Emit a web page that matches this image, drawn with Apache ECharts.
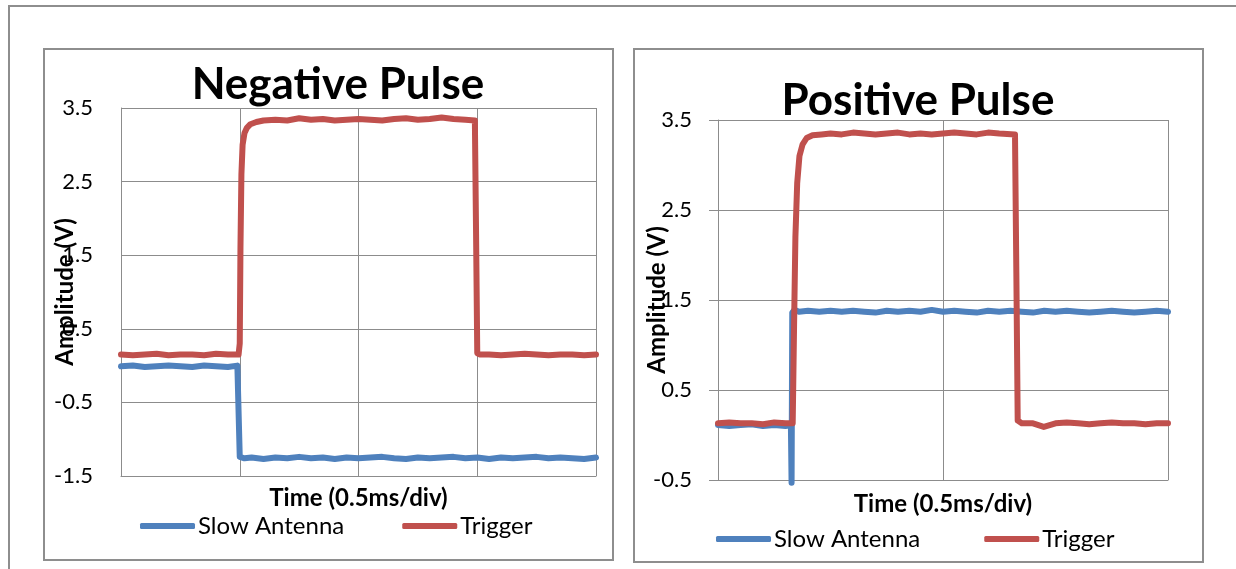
<!DOCTYPE html>
<html>
<head>
<meta charset="utf-8">
<title>Negative / Positive Pulse</title>
<script src="https://cdn.jsdelivr.net/npm/echarts@6/dist/echarts.min.js"></script>
<style>
  body { margin: 0; background: #fff; overflow: hidden; }
  .frame { position: absolute; box-sizing: border-box; border: 2px solid #8e8e8e; }
  .chart { position: absolute; }
</style>
</head>
<body>
<div class="frame" style="left:8px; top:5px; width:1240px; height:600px;"></div>
<div class="frame" style="left:43px; top:48px; width:571px; height:513px;"></div>
<div class="frame" style="left:633px; top:48px; width:571px; height:515px;"></div>
<div id="chart1" class="chart" style="left:43px; top:48px; width:570px; height:512px;"></div>
<div id="chart2" class="chart" style="left:633px; top:48px; width:570px; height:514px;"></div>

<script>
// time in ms (0.5 ms per division), amplitude in V
const legendNames = ['Slow Antenna', 'Trigger']

// Negative Pulse
const negSlow = [
  [0, -0.01], [0.05, 0.0], [0.1, -0.02], [0.15, -0.01], [0.2, 0.0], [0.25, -0.01],
  [0.3, -0.02], [0.35, 0.0], [0.4, -0.01], [0.45, -0.02], [0.49, 0.0], [0.496, -0.01],
  [0.5, -1.24], [0.52, -1.26], [0.55, -1.25], [0.6, -1.27], [0.65, -1.25], [0.7, -1.26],
  [0.75, -1.24], [0.8, -1.26], [0.85, -1.25], [0.9, -1.27], [0.95, -1.25], [1.0, -1.26],
  [1.05, -1.25], [1.1, -1.24], [1.15, -1.26], [1.2, -1.27], [1.25, -1.25], [1.3, -1.26],
  [1.35, -1.25], [1.4, -1.24], [1.45, -1.26], [1.5, -1.25], [1.55, -1.27], [1.6, -1.25],
  [1.65, -1.26], [1.7, -1.25], [1.75, -1.24], [1.8, -1.26], [1.85, -1.25], [1.9, -1.26],
  [1.95, -1.27], [2.0, -1.25]
]
const negTrig = [
  [0, 0.15], [0.05, 0.14], [0.1, 0.15], [0.15, 0.16], [0.2, 0.14], [0.25, 0.15],
  [0.3, 0.15], [0.35, 0.14], [0.4, 0.16], [0.45, 0.15], [0.495, 0.15], [0.5, 0.3],
  [0.503, 1.6], [0.507, 2.6], [0.512, 3.0], [0.52, 3.16], [0.53, 3.23], [0.545, 3.28],
  [0.57, 3.31], [0.6, 3.33], [0.65, 3.34], [0.7, 3.33], [0.75, 3.36], [0.8, 3.34],
  [0.85, 3.35], [0.9, 3.33], [0.95, 3.34], [1.0, 3.35], [1.05, 3.34], [1.1, 3.33],
  [1.15, 3.35], [1.2, 3.36], [1.25, 3.34], [1.3, 3.35], [1.35, 3.37], [1.4, 3.35],
  [1.45, 3.34], [1.49, 3.33], [1.495, 1.8], [1.5, 0.17], [1.51, 0.15], [1.55, 0.15],
  [1.6, 0.14], [1.65, 0.15], [1.7, 0.16], [1.75, 0.15], [1.8, 0.14], [1.85, 0.15],
  [1.9, 0.15], [1.95, 0.14], [2.0, 0.15]
]

// Positive Pulse
const posSlow = [
  [0, 0.11], [0.025, 0.1], [0.05, 0.11], [0.075, 0.12], [0.1, 0.1], [0.125, 0.11],
  [0.15, 0.1], [0.162, 0.11], [0.1635, -0.53], [0.165, 1.36], [0.17, 1.39], [0.18, 1.37],
  [0.2, 1.38], [0.225, 1.37], [0.25, 1.38], [0.275, 1.37], [0.3, 1.38], [0.325, 1.37],
  [0.35, 1.36], [0.375, 1.38], [0.4, 1.37], [0.425, 1.38], [0.45, 1.37], [0.475, 1.39],
  [0.5, 1.37], [0.525, 1.38], [0.55, 1.37], [0.575, 1.36], [0.6, 1.38], [0.625, 1.37],
  [0.65, 1.38], [0.675, 1.37], [0.7, 1.36], [0.725, 1.38], [0.75, 1.37], [0.775, 1.38],
  [0.8, 1.37], [0.825, 1.36], [0.85, 1.37], [0.875, 1.38], [0.9, 1.37], [0.925, 1.36],
  [0.95, 1.37], [0.975, 1.38], [1.0, 1.37]
]
const posTrig = [
  [0, 0.13], [0.025, 0.14], [0.05, 0.13], [0.075, 0.13], [0.1, 0.12], [0.125, 0.14],
  [0.15, 0.13], [0.166, 0.13], [0.169, 1.2], [0.172, 2.2], [0.176, 2.8], [0.181, 3.1],
  [0.188, 3.23], [0.197, 3.3], [0.21, 3.33], [0.23, 3.34], [0.25, 3.35], [0.275, 3.34],
  [0.3, 3.36], [0.325, 3.35], [0.35, 3.34], [0.375, 3.35], [0.4, 3.36], [0.425, 3.34],
  [0.45, 3.35], [0.475, 3.34], [0.5, 3.35], [0.525, 3.36], [0.55, 3.35], [0.575, 3.34],
  [0.6, 3.36], [0.625, 3.35], [0.66, 3.34], [0.663, 1.8], [0.666, 0.16], [0.675, 0.13],
  [0.7, 0.13], [0.724, 0.09], [0.75, 0.13], [0.775, 0.14], [0.8, 0.13], [0.825, 0.12],
  [0.85, 0.13], [0.875, 0.14], [0.9, 0.13], [0.925, 0.13], [0.95, 0.12], [0.975, 0.13],
  [1.0, 0.13]
]

const FONT = 'Lato'
const GRID_COLOR = '#8c8c8c'
const BLUE = '#4f81bd'
const RED = '#c0504d'

function makeOption (cfg) {
  return {
    animation: false,
    title: {
      text: cfg.title,
      left: cfg.titleX,
      top: cfg.titleY,
      textAlign: 'center',
      textStyle: { fontFamily: FONT, fontSize: 44, fontWeight: 'bold', color: '#000' }
    },
    legend: {
      data: legendNames,
      left: cfg.legendX,
      top: cfg.legendY,
      icon: 'roundRect',
      itemWidth: 55,
      itemHeight: 6,
      itemGap: cfg.legendGap,
      textStyle: { fontFamily: FONT, fontSize: 24, color: '#000', padding: [0, 0, 0, -2] }
    },
    grid: Object.assign({ outerBoundsMode: 'none', containLabel: false }, cfg.grid),
    xAxis: {
      type: 'value',
      min: 0,
      max: cfg.xMax,
      interval: 0.5,
      name: 'Time (0.5ms/div)',
      nameLocation: 'middle',
      nameGap: cfg.xNameGap,
      nameMoveOverlap: false,
      nameTextStyle: { fontFamily: FONT, fontSize: 24, fontWeight: 'bold', color: '#000' },
      axisLine: { show: true, onZero: false, lineStyle: { color: GRID_COLOR, width: 1 } },
      axisTick: { show: false },
      axisLabel: { show: false },
      splitLine: { show: true, lineStyle: { color: GRID_COLOR, width: 1 } }
    },
    yAxis: {
      type: 'value',
      min: cfg.yMin,
      max: 3.5,
      interval: 1,
      name: 'Amplitude (V)',
      nameLocation: 'middle',
      nameGap: cfg.yNameGap,
      nameMoveOverlap: false,
      nameTextStyle: { fontFamily: FONT, fontSize: 24, fontWeight: 'bold', color: '#000' },
      axisLine: { show: true, lineStyle: { color: GRID_COLOR, width: 1 } },
      axisTick: { show: cfg.yTicks, length: 9, lineStyle: { color: GRID_COLOR, width: 1 } },
      axisLabel: {
        margin: cfg.yLabelMargin,
        fontFamily: FONT, fontSize: 22, color: '#000',
        formatter: (v) => v.toFixed(1)
      },
      splitLine: { show: true, lineStyle: { color: GRID_COLOR, width: 1 } }
    },
    series: [
      {
        name: legendNames[0],
        type: 'line',
        data: cfg.slow,
        symbol: 'none',
        clip: false,
        color: BLUE,
        lineStyle: { width: 6, color: BLUE, cap: 'round', join: 'round' }
      },
      {
        name: legendNames[1],
        type: 'line',
        data: cfg.trig,
        symbol: 'none',
        clip: false,
        color: RED,
        lineStyle: { width: 6, color: RED, cap: 'round', join: 'round' }
      }
    ]
  }
}

let chart1 = echarts.init(document.getElementById('chart1'))
chart1.setOption(makeOption({
  title: 'Negative Pulse', titleX: 290, titleY: 10,
  legendX: 92, legendY: 461, legendGap: 58,
  grid: { left: 78, top: 60, width: 475, height: 368 },
  xMax: 2, yMin: -1.5, xNameGap: 10, yNameGap: 44, yTicks: false, yLabelMargin: 28,
  slow: negSlow, trig: negTrig
}))

let chart2 = echarts.init(document.getElementById('chart2'))
chart2.setOption(makeOption({
  title: 'Positive Pulse', titleX: 280, titleY: 26,
  legendX: 78, legendY: 474, legendGap: 64,
  grid: { left: 85, top: 72, width: 450, height: 360 },
  xMax: 1, yMin: -0.5, xNameGap: 12, yNameGap: 49, yTicks: true, yLabelMargin: 26,
  slow: posSlow, trig: posTrig
}))
</script>
</body>
</html>
